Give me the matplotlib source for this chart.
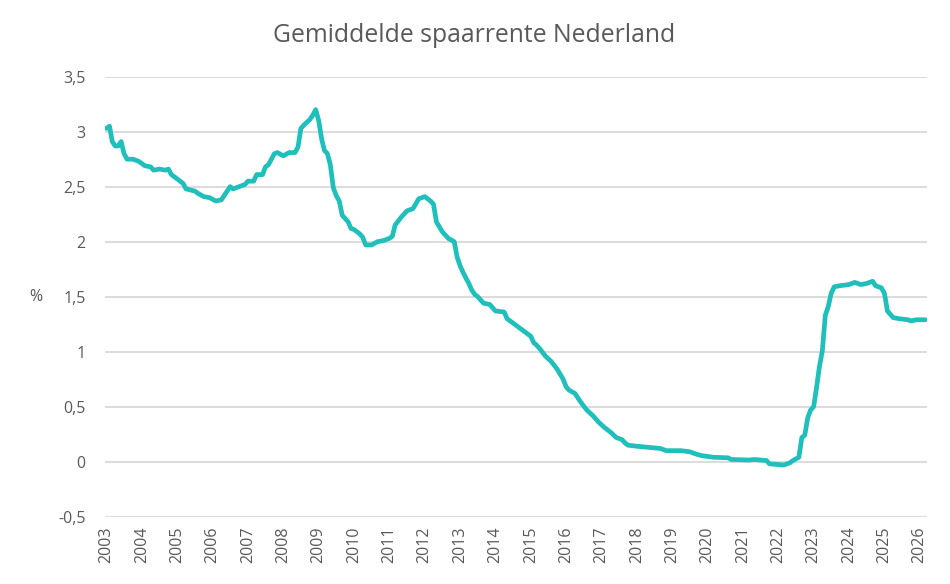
import matplotlib
matplotlib.use("Agg")
import matplotlib.pyplot as plt
import pandas as pd

title = "Gemiddelde spaarrente Nederland"
y_label = "%"

months = [
    "2003-01", "2003-02", "2003-03", "2003-04", "2003-05", "2003-06", "2003-07", "2003-08",
    "2003-10", "2003-12", "2004-02", "2004-04", "2004-05", "2004-07", "2004-09", "2004-10",
    "2004-11", "2005-01", "2005-03", "2005-04", "2005-07", "2005-08", "2005-10", "2005-12",
    "2006-02", "2006-04", "2006-05", "2006-07", "2006-08", "2006-10", "2006-12", "2007-01",
    "2007-03", "2007-04", "2007-06", "2007-07", "2007-08", "2007-10", "2007-11", "2008-01",
    "2008-03", "2008-05", "2008-06", "2008-07", "2008-08", "2008-10", "2008-11", "2008-12",
    "2009-01", "2009-02", "2009-03", "2009-04", "2009-05", "2009-06", "2009-07", "2009-08",
    "2009-09", "2009-10", "2009-11", "2009-12", "2010-01", "2010-02", "2010-03", "2010-04",
    "2010-05", "2010-07", "2010-09", "2010-11", "2011-01", "2011-02", "2011-03", "2011-05",
    "2011-07", "2011-09", "2011-11", "2012-01", "2012-03", "2012-04", "2012-05", "2012-07",
    "2012-09", "2012-11", "2012-12", "2013-01", "2013-02", "2013-03", "2013-04", "2013-05",
    "2013-06", "2013-07", "2013-09", "2013-11", "2014-01", "2014-04", "2014-05", "2014-07",
    "2014-09", "2014-11", "2015-01", "2015-02", "2015-03", "2015-04", "2015-06", "2015-08",
    "2015-10", "2015-12", "2016-01", "2016-02", "2016-04", "2016-06", "2016-08", "2016-10",
    "2016-12", "2017-02", "2017-04", "2017-06", "2017-08", "2017-09", "2017-10", "2018-01",
    "2018-05", "2018-09", "2018-11", "2019-04", "2019-07", "2019-09", "2019-11", "2020-03",
    "2020-08", "2020-09", "2021-03", "2021-05", "2021-09", "2021-10", "2022-03", "2022-05",
    "2022-06", "2022-08", "2022-09", "2022-10", "2022-11", "2022-12", "2023-01", "2023-02",
    "2023-03", "2023-04", "2023-05", "2023-06", "2023-07", "2023-08", "2023-10", "2024-01",
    "2024-03", "2024-05", "2024-07", "2024-09", "2024-10", "2024-12", "2025-01", "2025-02",
    "2025-04", "2025-06", "2025-09", "2025-10", "2025-12", "2026-03",
]

rates = [
    3.03, 3.05, 2.91, 2.87, 2.87, 2.91, 2.80, 2.75,
    2.75, 2.73, 2.69, 2.68, 2.65, 2.66, 2.65, 2.66,
    2.61, 2.57, 2.53, 2.48, 2.46, 2.44, 2.41, 2.40,
    2.37, 2.38, 2.42, 2.50, 2.48, 2.50, 2.52, 2.55,
    2.55, 2.61, 2.61, 2.68, 2.70, 2.80, 2.81, 2.78,
    2.81, 2.81, 2.86, 3.03, 3.06, 3.11, 3.15, 3.20,
    3.10, 2.93, 2.83, 2.80, 2.70, 2.49, 2.42, 2.37,
    2.24, 2.21, 2.18, 2.12, 2.11, 2.09, 2.07, 2.04,
    1.97, 1.97, 2.00, 2.01, 2.03, 2.05, 2.15, 2.22,
    2.28, 2.30, 2.39, 2.41, 2.37, 2.34, 2.18, 2.09,
    2.03, 2.00, 1.86, 1.78, 1.72, 1.67, 1.62, 1.56,
    1.52, 1.50, 1.44, 1.43, 1.37, 1.36, 1.30, 1.26,
    1.22, 1.18, 1.14, 1.08, 1.06, 1.03, 0.96, 0.91,
    0.84, 0.75, 0.68, 0.65, 0.62, 0.54, 0.47, 0.42,
    0.36, 0.31, 0.27, 0.22, 0.20, 0.17, 0.15, 0.14,
    0.13, 0.12, 0.10, 0.10, 0.09, 0.07, 0.055, 0.04,
    0.035, 0.02, 0.015, 0.02, 0.01, -0.02, -0.03, -0.01,
    0.01, 0.04, 0.22, 0.24, 0.40, 0.47, 0.50, 0.68,
    0.86, 1.01, 1.33, 1.41, 1.53, 1.59, 1.60, 1.61,
    1.63, 1.61, 1.62, 1.64, 1.60, 1.58, 1.53, 1.37,
    1.31, 1.30, 1.29, 1.28, 1.29, 1.29,
]

years = list(range(2003, 2027))
y_ticks = [-0.5, 0, 0.5, 1, 1.5, 2, 2.5, 3, 3.5]

plt.rcParams["font.family"] = ["Open Sans", "DejaVu Sans"]
text_color = "#595959"
line_color = "#1FBFBB"
grid_color = "#D9D9D9"

fig = plt.figure(figsize=(9.5, 5.84), dpi=100)
ax = fig.add_axes([0.1105, 0.1153, 0.8653, 0.7534])

dates = pd.to_datetime(months, format="%Y-%m")
ax.plot(dates, rates, color=line_color, lw=3.4, solid_joinstyle="round",
        solid_capstyle="round", zorder=3)

ax.set_ylim(-0.5, 3.5)
ax.set_yticks(y_ticks)
ax.set_yticklabels([("%g" % v).replace(".", ",") for v in y_ticks])
ax.set_xlim(pd.Timestamp("2002-12-16"), pd.Timestamp("2026-03-17"))
ax.set_xticks([pd.Timestamp(f"{y}-01-01") for y in years])
ax.set_xticklabels([str(y) for y in years], rotation=90)

ax.grid(axis="y", color=grid_color, lw=1.3, zorder=0)
ax.grid(axis="x", visible=False)
for s in ax.spines.values():
    s.set_visible(False)
ax.tick_params(axis="both", length=0, colors=text_color, labelsize=11.5)
ax.tick_params(axis="y", pad=14)
ax.tick_params(axis="x", pad=7)

fig.text(0.499, 0.928, title, ha="center", va="baseline", fontsize=17.8, color=text_color)
fig.text(0.038, 0.492, y_label, ha="center", va="center", fontsize=11.5, color=text_color)

fig.savefig("out.png", dpi=100)
